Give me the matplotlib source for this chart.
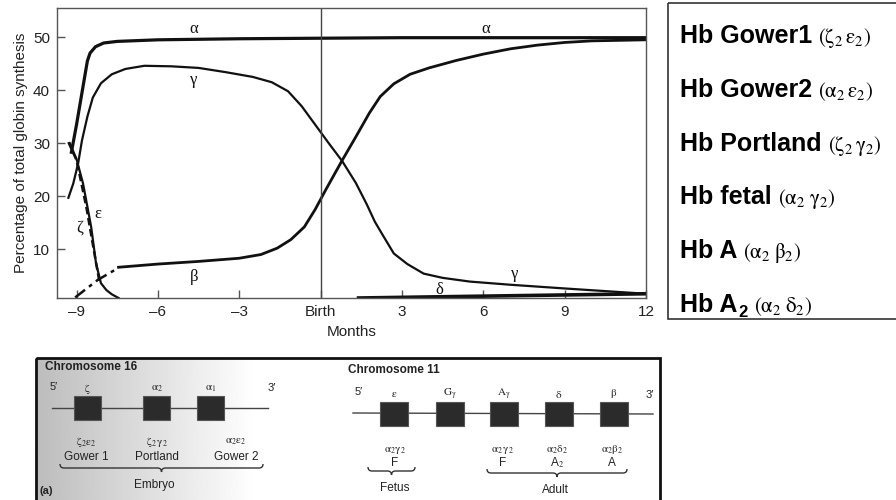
import numpy as np
import matplotlib.pyplot as plt
from matplotlib.path import Path
from matplotlib.patches import PathPatch, Rectangle

plt.rcParams['font.family'] = ['Liberation Sans', 'DejaVu Sans']
plt.rcParams['mathtext.fontset'] = 'stix'

# globin chain synthesis, months vs % of total
alpha_x = [-9.2, -9.0, -8.8, -8.6, -8.5, -8.3, -8.0, -7.5, -6.0, -3.0, 0.0, 3.0, 6.0, 9.0, 12.0]
alpha_y = [28.0, 33.5, 39.5, 45.5, 47.0, 48.2, 48.9, 49.2, 49.5, 49.7, 49.8, 49.9, 49.9, 49.9, 49.9]

gamma_x = [-9.3, -9.12, -8.94, -8.8, -8.6, -8.4, -8.1, -7.7, -7.2, -6.5, -5.5, -4.5, -3.5,
           -2.5, -1.8, -1.2, -0.7, -0.2, 0.3, 0.8, 1.3, 1.7, 2.0, 2.3, 2.7, 3.2, 3.8, 4.5,
           5.5, 7.0, 9.0, 10.5, 12.0]
gamma_y = [19.7, 22.4, 26.2, 30.5, 35.0, 38.6, 41.3, 43.0, 44.0, 44.6, 44.5, 44.2, 43.4,
           42.5, 41.5, 39.8, 37.0, 33.5, 30.0, 26.6, 22.5, 18.5, 15.2, 12.6, 9.2, 7.2, 5.4, 4.6,
           3.9, 3.3, 2.6, 2.1, 1.6]

beta_early_x = [-9.05, -8.22, -7.45]
beta_early_y = [0.9, 4.2, 6.5]
beta_x = [-7.45, -6.0, -4.5, -3.0, -2.2, -1.6, -1.1, -0.6, -0.2, 0.2, 0.8, 1.3, 1.8, 2.2,
          2.7, 3.3, 4.0, 5.0, 6.0, 7.0, 8.0, 9.0, 10.0, 11.0, 12.0]
beta_y = [6.6, 7.2, 7.7, 8.3, 9.0, 10.2, 11.8, 14.2, 17.5, 21.3, 26.8, 31.2, 35.7, 38.8,
          41.2, 43.0, 44.2, 45.6, 46.8, 47.8, 48.5, 49.0, 49.3, 49.4, 49.5]

zeta_x = [-9.3, -9.0, -8.64, -8.34, -8.16]
zeta_y = [30.2, 26.8, 18.0, 9.2, 4.0]

eps_x = [-9.25, -9.0, -8.76, -8.46, -8.28, -8.1, -7.9, -7.7, -7.45]
eps_y = [30.0, 27.0, 22.4, 14.2, 7.3, 3.6, 2.3, 1.5, 0.8]

delta_x = [1.4, 4.0, 8.0, 12.0]
delta_y = [0.8, 1.0, 1.3, 1.6]

curve_labels = ['α', 'α', 'γ', 'γ', 'β', 'ε', 'ζ', 'δ']
curve_label_x = [-4.67, 6.08, -4.67, 7.14, -4.67, -8.22, -8.88, 4.39]
curve_label_y = [51.6, 51.6, 41.9, 5.4, 4.8, 16.7, 14.2, 2.3]

xtick_vals = [-9, -6, -3, 0, 3, 6, 9, 12]
xtick_text = ['–9', '–6', '–3', 'Birth', '3', '6', '9', '12']
ytick_vals = [10, 20, 30, 40, 50]

# haemoglobin types (right box)
hb_names = ['Hb Gower1', 'Hb Gower2', 'Hb Portland', 'Hb fetal', 'Hb A', 'Hb A']
hb_subs = ['', '', '', '', '', '2']
hb_chains = [r'$(\mathrm{\zeta_2\,\varepsilon_2})$', r'$(\mathrm{\alpha_2\,\varepsilon_2})$',
             r'$(\mathrm{\zeta_2\,\gamma_2})$', r'$(\mathrm{\alpha_2\;\gamma_2})$',
             r'$(\mathrm{\alpha_2\;\beta_2})$', r'$(\mathrm{\alpha_2\;\delta_2})$']

# gene clusters (bottom panel)
chr16_genes = [r'$\mathrm{\zeta}$', r'$\mathrm{\alpha_2}$', r'$\mathrm{\alpha_1}$']
chr16_box_left = [74, 143, 197]
chr16_prod = [r'$\mathrm{\zeta_2\varepsilon_2}$', r'$\mathrm{\zeta_2\,\gamma_2}$', r'$\mathrm{\alpha_2\varepsilon_2}$']
chr16_prod_name = ['Gower 1', 'Portland', 'Gower 2']
chr16_prod_x = [86, 157, 236]

chr11_genes = [r'$\mathrm{\varepsilon}$', r'$\mathrm{G_\gamma}$', r'$\mathrm{A_\gamma}$', r'$\mathrm{\delta}$', r'$\mathrm{\beta}$']
chr11_box_left = [380, 436, 490, 545, 600]
chr11_prod = [r'$\mathrm{\alpha_2\gamma_2}$', r'$\mathrm{\alpha_2\,\gamma_2}$', r'$\mathrm{\alpha_2\delta_2}$', r'$\mathrm{\alpha_2\beta_2}$']
chr11_prod_name = ['F', 'F', r'A$_2$', 'A']
chr11_prod_x = [395, 503, 557, 612]

fig = plt.figure(figsize=(8.96, 5.0), dpi=100)

# overlay in pixel coords for the side box and the gene diagram
over = fig.add_axes([0, 0, 1, 1])
over.set_xlim(0, 896)
over.set_ylim(500, 0)
over.axis('off')

ax = fig.add_axes([57 / 896, 1 - 298 / 500, 589 / 896, 290 / 500])
ink = '#111111'
ax.plot(alpha_x, alpha_y, color=ink, lw=2.3, solid_capstyle='butt')
ax.plot(gamma_x, gamma_y, color=ink, lw=1.6)
ax.plot(beta_early_x, beta_early_y, color=ink, lw=1.8, linestyle=(0, (5, 2, 1.5, 2)))
ax.plot(beta_x, beta_y, color=ink, lw=2.0)
ax.plot(zeta_x, zeta_y, color=ink, lw=1.8, linestyle=(0, (3, 1.5)))
ax.plot(eps_x, eps_y, color=ink, lw=1.6)
ax.plot(delta_x, delta_y, color=ink, lw=2.6)
ax.axvline(0, color='#444444', lw=1.0)

for lab, lx, ly in zip(curve_labels, curve_label_x, curve_label_y):
    ax.text(lx, ly, lab, family=['Liberation Serif', 'DejaVu Serif'], fontsize=12,
            ha='center', va='center', color=ink)

ax.set_xlim(-9.72, 12)
ax.set_ylim(0.8, 55.5)
ax.set_xticks(xtick_vals)
ax.set_xticklabels(xtick_text)
ax.set_yticks(ytick_vals)
ax.tick_params(direction='in', length=6, width=1, color='#555555', labelsize=11,
               labelcolor='#222222', pad=5)
for sp in ax.spines.values():
    sp.set_color('#555555')
    sp.set_linewidth(1.0)
ax.set_ylabel('Percentage of total globin synthesis', fontsize=11, color='#222222', labelpad=4)
ax.set_xlabel('Months', fontsize=11, color='#222222', labelpad=4)

# side box with haemoglobin types
over.add_patch(Rectangle((668, 3), 260, 316, fill=False, edgecolor='#333333', lw=1.2))
renderer = fig.canvas.get_renderer()
inv = over.transData.inverted()
row_y = np.linspace(43, 312, len(hb_names))
for name, sub, chain, yb in zip(hb_names, hb_subs, hb_chains, row_y):
    t = over.text(680, yb, name, fontsize=18, fontweight='bold', va='baseline', ha='left')
    x_end = inv.transform((t.get_window_extent(renderer).x1, 0))[0]
    if sub:
        s = over.text(x_end + 1, yb + 5, sub, fontsize=12, fontweight='bold', va='baseline')
        x_end = inv.transform((s.get_window_extent(renderer).x1, 0))[0]
    over.text(x_end + 6, yb, chain, fontsize=15, va='baseline', ha='left')

# gene diagram panel
grad = np.linspace(0, 1, 300)
shade = np.clip(0.74 + 0.26 * grad / 0.35, 0, 1)[None, :]
over.imshow(shade, extent=[36, 660, 500, 358], cmap='gray', vmin=0, vmax=1,
            aspect='auto', zorder=0)
over.add_patch(Rectangle((36, 358), 624, 160, fill=False, edgecolor='#111111', lw=2.0, zorder=1))

txt = '#222222'
box_col = '#2b2b2b'


def brace(x0, x1, y, h=4):
    xm = (x0 + x1) / 2
    verts = [(x0, y - h), (x0, y), (x0 + h, y), (xm - h, y), (xm, y), (xm, y + h),
             (xm, y), (xm + h, y), (x1 - h, y), (x1, y), (x1, y - h)]
    codes = [Path.MOVETO, Path.CURVE3, Path.CURVE3, Path.LINETO, Path.CURVE3, Path.CURVE3,
             Path.CURVE3, Path.CURVE3, Path.LINETO, Path.CURVE3, Path.CURVE3]
    over.add_patch(PathPatch(Path(verts, codes), fill=False, edgecolor='#333333', lw=1.0, zorder=2))


# chromosome 16
over.text(45, 367, 'Chromosome 16', fontsize=8.5, fontweight='bold', va='center', color=txt, zorder=3)
over.text(50, 387, '5′', fontsize=8, va='center', color=txt, zorder=3)
over.text(272, 388, '3′', fontsize=8, va='center', ha='center', color=txt, zorder=3)
over.plot([52, 268], [408, 408], color='#444444', lw=1.0, zorder=2)
for g, bl in zip(chr16_genes, chr16_box_left):
    over.add_patch(Rectangle((bl, 396), 27, 24, facecolor=box_col, edgecolor='#555555', lw=0.8, zorder=3))
    over.text(bl + 13.5, 389, g, fontsize=8, ha='center', va='center', color=txt, zorder=3)
for p, n, px in zip(chr16_prod, chr16_prod_name, chr16_prod_x):
    over.text(px, 442, p, fontsize=8, ha='center', va='center', color=txt, zorder=3)
    over.text(px, 457, n, fontsize=8.5, ha='center', va='center', color=txt, zorder=3)
brace(60, 263, 468)
over.text(154, 485, 'Embryo', fontsize=8.5, ha='center', va='center', color=txt, zorder=3)
over.text(46, 491, '(a)', fontsize=8, fontweight='bold', ha='center', va='center', color=txt, zorder=3)

# chromosome 11
over.text(348, 370, 'Chromosome 11', fontsize=8.5, fontweight='bold', va='center', color=txt, zorder=3)
over.text(355, 392, '5′', fontsize=8, va='center', color=txt, zorder=3)
over.text(650, 395, '3′', fontsize=8, va='center', ha='center', color=txt, zorder=3)
over.plot([353, 653], [413, 414], color='#444444', lw=1.0, zorder=2)
for g, bl in zip(chr11_genes, chr11_box_left):
    over.add_patch(Rectangle((bl, 402), 28, 24, facecolor=box_col, edgecolor='#555555', lw=0.8, zorder=3))
    over.text(bl + 14, 394, g, fontsize=8, ha='center', va='center', color=txt, zorder=3)
for p, n, px in zip(chr11_prod, chr11_prod_name, chr11_prod_x):
    over.text(px, 450, p, fontsize=8, ha='center', va='center', color=txt, zorder=3)
    over.text(px, 463, n, fontsize=8.5, ha='center', va='center', color=txt, zorder=3)
brace(368, 415, 471)
brace(487, 627, 473)
over.text(395, 488, 'Fetus', fontsize=8.5, ha='center', va='center', color=txt, zorder=3)
over.text(555, 490, 'Adult', fontsize=8.5, ha='center', va='center', color=txt, zorder=3)

fig.savefig('out.png', dpi=100)
